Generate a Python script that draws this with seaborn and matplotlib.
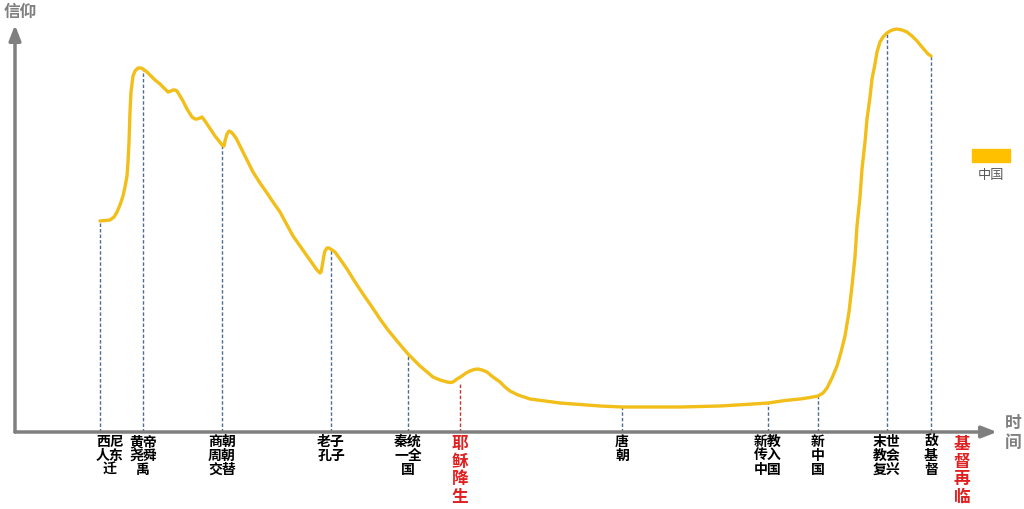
import numpy as np
import pandas as pd
import matplotlib
matplotlib.use("Agg")
import matplotlib.pyplot as plt
import seaborn as sns

### curve: time position and faith level (0 = time axis)
curve_t = [100, 105, 110, 114, 117, 120, 123, 125, 127, 128, 129, 130, 131, 133, 135,
           138, 141, 143, 147, 150, 155, 160, 165, 168, 171, 173, 175, 177, 180, 183,
           187, 192, 195, 197, 200, 202, 205, 207, 211, 215, 219, 222, 224, 225, 227,
           229, 231, 233, 236, 240, 243, 248, 253, 260, 267, 273, 280, 287, 293, 300,
           307, 312, 317, 320, 321, 322, 323, 324, 325, 327, 329, 332, 335, 340, 347,
           355, 363, 372, 380, 388, 397, 403, 408, 414, 420, 427, 433, 440, 447, 450,
           453, 457, 462, 466, 470, 474, 478, 482, 487, 493, 500, 505, 510, 518, 530,
           545, 560, 580, 600, 622, 650, 680, 700, 720, 745, 768, 785, 800, 810, 818,
           823, 827, 832, 837, 841, 845, 849, 852, 855, 857, 860, 862, 865, 867, 870,
           872, 875, 877, 880, 883, 887, 890, 894, 897, 902, 907, 912, 917, 922, 928,
           931]
curve_faith = [211, 211.5, 212, 215, 220, 227, 236, 245, 256, 270, 290, 320, 340, 356, 361,
               364, 364, 363, 360, 357, 352, 348, 343, 340, 341, 342, 342, 341, 336, 331,
               323, 315, 313, 313, 314, 315, 311, 308, 302, 296, 291, 287, 286, 291, 298,
               301, 300, 298, 294, 286, 280, 270, 260, 249, 239, 230, 220, 207, 196, 186,
               176, 169, 162, 159, 160, 165, 171, 177, 181, 184, 184, 182, 180, 173, 163,
               150, 138, 125, 113, 102, 91, 84, 78, 72, 66, 60, 55, 52, 50, 49.5,
               50, 53, 56, 59, 61, 62.5, 63, 62, 60, 55, 50, 45, 41, 37, 33,
               31, 29, 27.5, 26, 25, 25, 25, 25.5, 26, 27.5, 29, 31.5, 33, 34.5, 36,
               39, 44, 54, 66, 80, 96, 120, 146, 175, 206, 235, 263, 290, 313, 335,
               353, 368, 380, 390, 395, 399, 401, 402.5, 403, 402, 400, 396, 391, 385, 378,
               376]

### events on the time axis
event_t = [100, 143, 222, 331, 408, 460, 622, 768, 818, 887, 931]
event_faith = [211, 363, 287, 183, 78, 50, 25, 29, 36, 399, 376]
event_labels = ["西尼\n人东\n迁", "黄帝\n尧舜\n禹", "商朝\n周朝\n交替", "老子\n孔子",
                "秦统\n一全\n国", "耶\n稣\n降\n生", "唐\n朝", "新教\n传入\n中国",
                "新\n中\n国", "末世\n教会\n复兴", "敌\n基\n督"]
event_red = [False, False, False, False, False, True, False, False, False, False, False]
label_dx = [10, 0, 0, 0, 0, 0, 0, 0, 0, 0, 0]

end_t = 962
end_label = "基\n督\n再\n临"

series_name = "中国"
gold = "#F2BE1A"
axis_gray = "#7F7F7F"

sns.set_style("white")
plt.rcParams["font.family"] = ["Noto Sans CJK SC", "DejaVu Sans"]

fig = plt.figure(figsize=(10.24, 5.1), dpi=100)
ax = fig.add_axes([0, 0, 1, 1])
ax.set_xlim(0, 1024)
ax.set_ylim(-77, 433)
ax.axis("off")

df = pd.DataFrame({"t": curve_t, "faith": curve_faith})
sns.lineplot(data=df, x="t", y="faith", sort=False, color=gold, linewidth=2.4,
             ax=ax, legend=False, zorder=3)

# dashed drop lines from the curve to the time axis
for t, f, red in zip(event_t, event_faith, event_red):
    c = "#C0392B" if red else "#4F6D8F"
    ax.plot([t, t], [0, f], color=c, linestyle=(0, (2.5, 1.5)), linewidth=1.0, zorder=2)

# axes with arrows
ax.annotate("", xy=(997, 0), xytext=(15, 0),
            arrowprops=dict(arrowstyle="-|>,head_length=0.9,head_width=0.35",
                            color=axis_gray, lw=2.5, shrinkA=0, shrinkB=0))
ax.annotate("", xy=(15, 407), xytext=(15, 0),
            arrowprops=dict(arrowstyle="-|>,head_length=0.9,head_width=0.35",
                            color=axis_gray, lw=2.5, shrinkA=0, shrinkB=0))
ax.text(4, 421, "信仰", fontsize=12, fontweight="bold", color=axis_gray, va="center", ha="left")
ax.text(1013, 0, "时\n间", fontsize=12, fontweight="bold", color=axis_gray,
        va="center", ha="center", linespacing=1.1)

# event labels
for t, lab, red, dx in zip(event_t, event_labels, event_red, label_dx):
    if red:
        ax.text(t, -2, lab, fontsize=12, fontweight="bold", color="#E02020",
                ha="center", va="top", linespacing=0.98)
    else:
        ax.text(t + dx, -2, lab, fontsize=10, fontweight="bold", color="black",
                ha="center", va="top", linespacing=1.0)
ax.text(end_t, -2, end_label, fontsize=12, fontweight="bold", color="#E02020",
        ha="center", va="top", linespacing=0.98)

# legend
ax.add_patch(plt.Rectangle((972, 270), 38, 13, color="#FFC000", zorder=3))
ax.text(991, 258, series_name, fontsize=9.5, color="#595959", ha="center", va="center")

fig.savefig("out.png", dpi=100)
